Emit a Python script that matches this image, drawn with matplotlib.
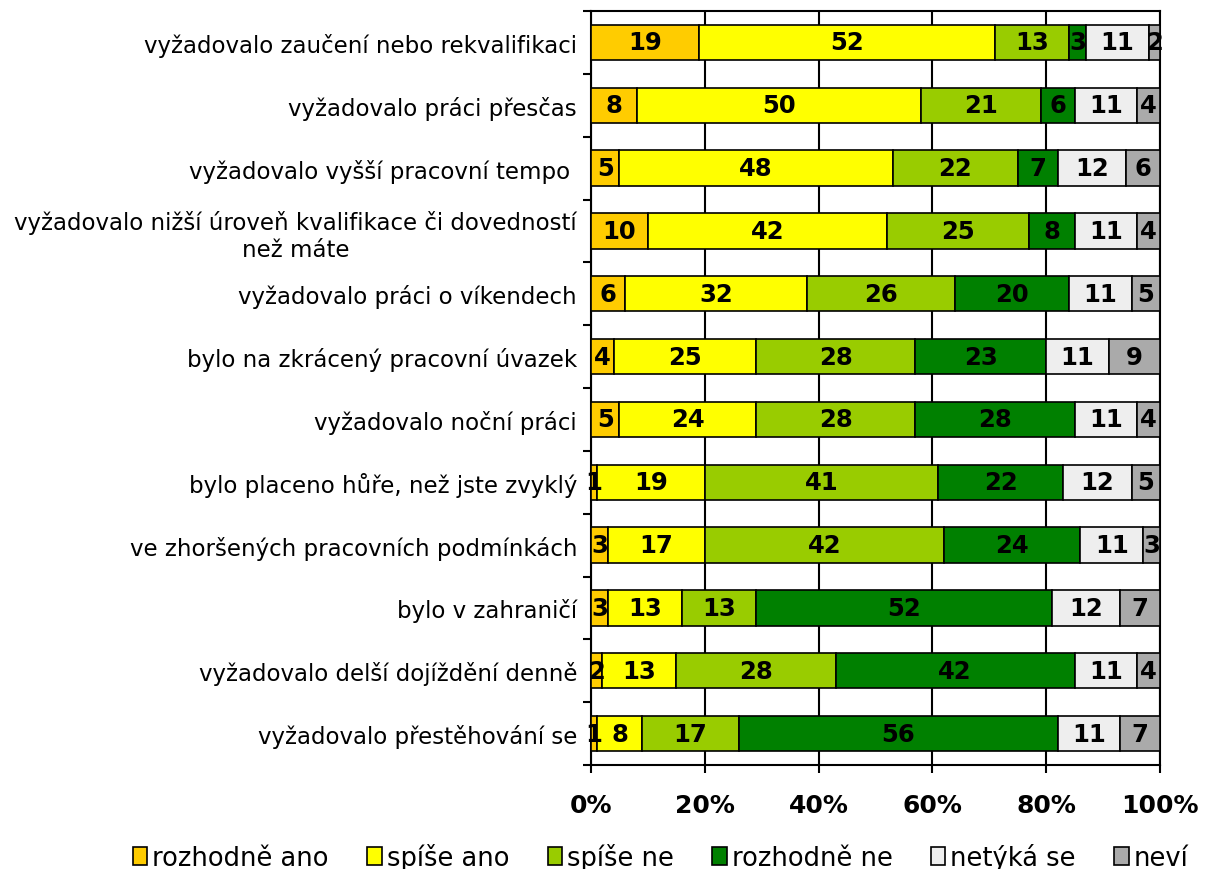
import numpy as np
import matplotlib.pyplot as plt
from matplotlib.patches import Patch

categories = [
    'vyžadovalo zaučení nebo rekvalifikaci',
    'vyžadovalo práci přesčas',
    'vyžadovalo vyšší pracovní tempo ',
    'vyžadovalo nižší úroveň kvalifikace či dovedností\nnež máte',
    'vyžadovalo práci o víkendech',
    'bylo na zkrácený pracovní úvazek',
    'vyžadovalo noční práci',
    'bylo placeno hůře, než jste zvyklý',
    've zhoršených pracovních podmínkách',
    'bylo v zahraničí',
    'vyžadovalo delší dojíždění denně',
    'vyžadovalo přestěhování se',
]
series = ['rozhodně ano', 'spíše ano', 'spíše ne', 'rozhodně ne', 'netýká se', 'neví']
rozhodne_ano = [19, 8, 5, 10, 6, 4, 5, 1, 3, 3, 2, 1]
spise_ano = [52, 50, 48, 42, 32, 25, 24, 19, 17, 13, 13, 8]
spise_ne = [13, 21, 22, 25, 26, 28, 28, 41, 42, 13, 28, 17]
rozhodne_ne = [3, 6, 7, 8, 20, 23, 28, 22, 24, 52, 42, 56]
netyka_se = [11, 11, 12, 11, 11, 11, 11, 12, 11, 12, 11, 11]
nevi = [2, 4, 6, 4, 5, 9, 4, 5, 3, 7, 4, 7]
colors = ['#FFCC00', '#FFFF00', '#99CC00', '#008000', '#EEEEEE', '#AAAAAA']

data = np.array([rozhodne_ano, spise_ano, spise_ne, rozhodne_ne, netyka_se, nevi], dtype=float)
totals = data.sum(axis=0)
pct = data / totals * 100

fig = plt.figure(figsize=(12.12, 8.7), dpi=100)
ax = fig.add_axes([591 / 1212, 1 - 766 / 870, (1160 - 591) / 1212, (766 - 12) / 870])

y = np.arange(len(categories))
left = np.zeros(len(categories))
for i, name in enumerate(series):
    ax.barh(y, pct[i], left=left, height=0.56, color=colors[i],
            edgecolor='black', linewidth=1.2, label=name, zorder=3)
    for j in range(len(categories)):
        ax.text(left[j] + pct[i][j] / 2, y[j], str(int(data[i][j])),
                ha='center', va='center', fontsize=17.5, fontweight='bold', zorder=4)
    left += pct[i]

ax.set_xlim(0, 100)
ax.set_ylim(len(categories) - 0.5, -0.5)
ax.set_xticks([0, 20, 40, 60, 80, 100])
ax.set_xticklabels(['0%', '20%', '40%', '60%', '80%', '100%'],
                   fontsize=18, fontweight='bold')
ax.xaxis.grid(True, color='black', linewidth=1.5, zorder=0)
ax.set_yticks(y)
ax.set_yticklabels(categories, fontsize=16.5, ha='right', multialignment='center')
ax.tick_params(axis='y', length=0, pad=10)
ax.set_yticks(np.arange(-0.5, len(categories), 1), minor=True)
ax.tick_params(axis='y', which='minor', length=6, width=1.5, direction='out')
ax.tick_params(axis='x', length=6, width=1.5, direction='out', pad=14)
for s in ax.spines.values():
    s.set_linewidth(1.5)
ax.set_axisbelow(True)

handles = [Patch(facecolor=c, edgecolor='black', linewidth=1.2) for c in colors]
fig.legend(handles, series, loc='center left', bbox_to_anchor=(110 / 1212, 1 - 858 / 870),
           ncol=6, frameon=False, fontsize=18.5, handlelength=0.55, handleheight=0.75,
           handletextpad=0.2, columnspacing=1.5)

fig.savefig('out.png', dpi=100)
